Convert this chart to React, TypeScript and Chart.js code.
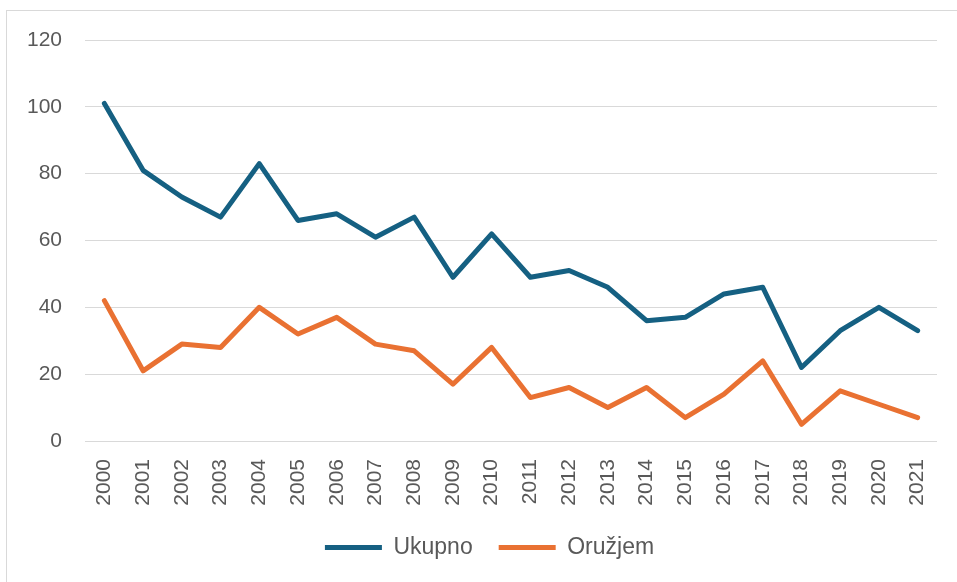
import React, { useEffect, useRef } from "react";
import { Chart, registerables } from "chart.js";

Chart.register(...registerables);

const years = [
  "2000", "2001", "2002", "2003", "2004", "2005", "2006", "2007", "2008", "2009", "2010",
  "2011", "2012", "2013", "2014", "2015", "2016", "2017", "2018", "2019", "2020", "2021",
];
const ukupno = [101, 81, 73, 67, 83, 66, 68, 61, 67, 49, 62, 49, 51, 46, 36, 37, 44, 46, 22, 33, 40, 33];
const oruzjem = [42, 21, 29, 28, 40, 32, 37, 29, 27, 17, 28, 13, 16, 10, 16, 7, 14, 24, 5, 15, 11, 7];
const yTicks = [0, 20, 40, 60, 80, 100, 120];

const FONT = "'Liberation Sans', Arial, sans-serif";
const TEXT = "#595959";
const GRID = "#d9d9d9";

const legendShift = {
  id: "legendShift",
  afterLayout(chart: any) {
    const lg = chart.legend;
    if (lg) {
      lg.left += 42;
    }
  },
};

export default function App() {
  const ref = useRef<HTMLCanvasElement | null>(null);

  useEffect(() => {
    if (!ref.current) return;
    const chart = new Chart(ref.current, {
      type: "line",
      data: {
        labels: years,
        datasets: [
          {
            label: "Ukupno",
            data: ukupno,
            borderColor: "#156082",
            backgroundColor: "#156082",
            borderWidth: 5,
            pointRadius: 0,
            borderCapStyle: "round",
            borderJoinStyle: "round",
            tension: 0,
          },
          {
            label: "Oružjem",
            data: oruzjem,
            borderColor: "#E97132",
            backgroundColor: "#E97132",
            borderWidth: 5,
            pointRadius: 0,
            borderCapStyle: "round",
            borderJoinStyle: "round",
            tension: 0,
          },
        ],
      },
      plugins: [legendShift],
      options: {
        animation: false,
        responsive: false,
        maintainAspectRatio: false,
        layout: { padding: { top: 40, right: 20, left: 0, bottom: 13 } },
        plugins: {
          tooltip: { enabled: false },
          legend: {
            position: "bottom",
            labels: {
              usePointStyle: true,
              pointStyle: "line",
              pointStyleWidth: 57,
              boxHeight: 20,
              padding: 26,
              color: TEXT,
              font: { family: FONT, size: 23 },
            },
          },
        },
        scales: {
          x: {
            offset: true,
            grid: { display: false, drawTicks: false },
            border: { display: false },
            ticks: {
              color: TEXT,
              font: { family: FONT, size: 21 },
              maxRotation: 90,
              minRotation: 90,
              padding: 18,
              autoSkip: false,
            },
            afterFit: (s: any) => {
              s.height = 69;
              s.paddingLeft = 0;
              s.paddingRight = 0;
            },
          },
          y: {
            min: 0,
            max: 120,
            grid: { color: GRID, lineWidth: 1, drawTicks: false },
            border: { display: false },
            afterBuildTicks: (s: any) => {
              s.ticks = yTicks.map((v) => ({ value: v }));
            },
            ticks: {
              color: TEXT,
              font: { family: FONT, size: 21 },
              padding: 23,
            },
            afterFit: (s: any) => {
              s.width = 85;
              s.paddingTop = 0;
              s.paddingBottom = 0;
            },
          },
        },
      },
    });
    return () => chart.destroy();
  }, []);

  return (
    <div style={{ position: "fixed", left: 0, top: 0, width: 957, height: 582, overflow: "hidden", background: "#fff" }}>
      <div
        style={{
          position: "absolute",
          left: 6,
          top: 10,
          width: 1000,
          height: 1000,
          border: "1px solid #d9d9d9",
          boxSizing: "border-box",
        }}
      />
      <canvas ref={ref} width={957} height={582} style={{ position: "absolute", left: 0, top: 0, width: 957, height: 582 }} />
    </div>
  );
}
